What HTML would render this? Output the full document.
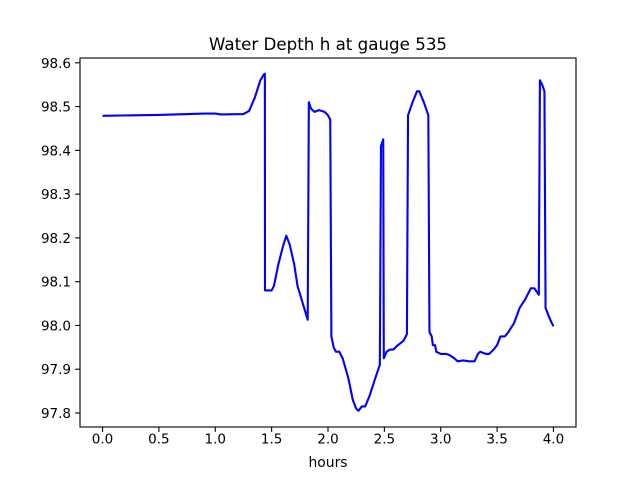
<!DOCTYPE html>
<html><head><meta charset="utf-8"><style>
body{margin:0;background:#fff;}
svg{display:block;font-family:"DejaVu Sans","Liberation Sans",sans-serif;}
</style></head><body>
<svg id="chart" width="640" height="480" viewBox="0 0 640 480" xmlns="http://www.w3.org/2000/svg">
<rect width="640" height="480" fill="#fff"/>
<text x="328" y="50" font-size="16.7" text-anchor="middle">Water Depth h at gauge 535</text>
<g id="plot"></g>
<text x="328" y="467" font-size="13.9" text-anchor="middle">hours</text>
</svg>
<script>
const hours=[0,0.5,0.9,1.0,1.05,1.25,1.3,1.35,1.4,1.43,1.44,1.441,1.5,1.52,1.56,1.6,1.63,1.66,1.7,1.73,1.82,1.83,1.85,1.88,1.92,1.97,2.0,2.02,2.03,2.05,2.07,2.1,2.13,2.18,2.22,2.25,2.27,2.3,2.33,2.37,2.42,2.46,2.47,2.49,2.495,2.52,2.55,2.58,2.62,2.67,2.7,2.71,2.75,2.79,2.81,2.85,2.89,2.9,2.92,2.93,2.95,2.96,3.0,3.05,3.08,3.12,3.15,3.2,3.25,3.3,3.33,3.35,3.4,3.43,3.47,3.5,3.53,3.57,3.6,3.65,3.7,3.75,3.8,3.83,3.87,3.88,3.9,3.92,3.93,3.96,3.98,4.0];
const depth=[98.479,98.481,98.484,98.484,98.482,98.483,98.49,98.52,98.56,98.573,98.575,98.08,98.08,98.09,98.14,98.18,98.205,98.185,98.14,98.09,98.013,98.51,98.495,98.488,98.492,98.488,98.48,98.47,97.975,97.95,97.94,97.94,97.925,97.88,97.83,97.81,97.805,97.815,97.815,97.84,97.88,97.91,98.41,98.425,97.925,97.94,97.945,97.945,97.955,97.965,97.98,98.48,98.51,98.535,98.535,98.51,98.48,97.985,97.975,97.955,97.955,97.94,97.935,97.935,97.932,97.925,97.918,97.92,97.918,97.918,97.935,97.94,97.935,97.935,97.945,97.955,97.975,97.975,97.985,98.005,98.04,98.06,98.085,98.085,98.07,98.56,98.55,98.535,98.04,98.02,98.008,97.998];
const xTicks=[0,0.5,1.0,1.5,2.0,2.5,3.0,3.5,4.0];
const yTicks=[97.8,97.9,98.0,98.1,98.2,98.3,98.4,98.5,98.6];
const L=80,R=576,T=58,B=427;
const xMin=-0.2,xMax=4.2,yMin=97.768,yMax=98.611;
const X=v=>L+(v-xMin)/(xMax-xMin)*(R-L);
const Y=v=>B-(v-yMin)/(yMax-yMin)*(B-T);
const NS="http://www.w3.org/2000/svg";
const g=document.getElementById('plot');
function mk(t,a){const e=document.createElementNS(NS,t);for(const k in a)e.setAttribute(k,a[k]);g.appendChild(e);return e;}
const d=hours.map((h,i)=>(i?'L':'M')+X(h).toFixed(2)+','+Y(depth[i]).toFixed(2)).join(' ');
const line=mk('path',{d:d,fill:'none',stroke:'#0000ff','stroke-width':2.1,'stroke-linejoin':'round'});


xTicks.forEach(v=>{
  const t=mk('line',{x1:X(v),x2:X(v),y1:B,y2:B+4.9,stroke:'#000','stroke-width':1.1});
  
  
  const s=mk('text',{x:X(v),y:B+16.5,'font-size':13.5,'text-anchor':'middle'});
  s.textContent=v.toFixed(1);
  
  
});
yTicks.forEach(v=>{
  const t=mk('line',{x1:L-4.9,x2:L,y1:Y(v),y2:Y(v),stroke:'#000','stroke-width':1.1});
  
  
  const s=mk('text',{x:L-9,y:Y(v)+5,'font-size':13.5,'text-anchor':'end'});
  s.textContent=v.toFixed(1);
  
  
});
const fr=mk('rect',{x:L,y:T,width:R-L,height:B-T,fill:'none',stroke:'#000','stroke-width':1.1});


</script>
</body></html>
